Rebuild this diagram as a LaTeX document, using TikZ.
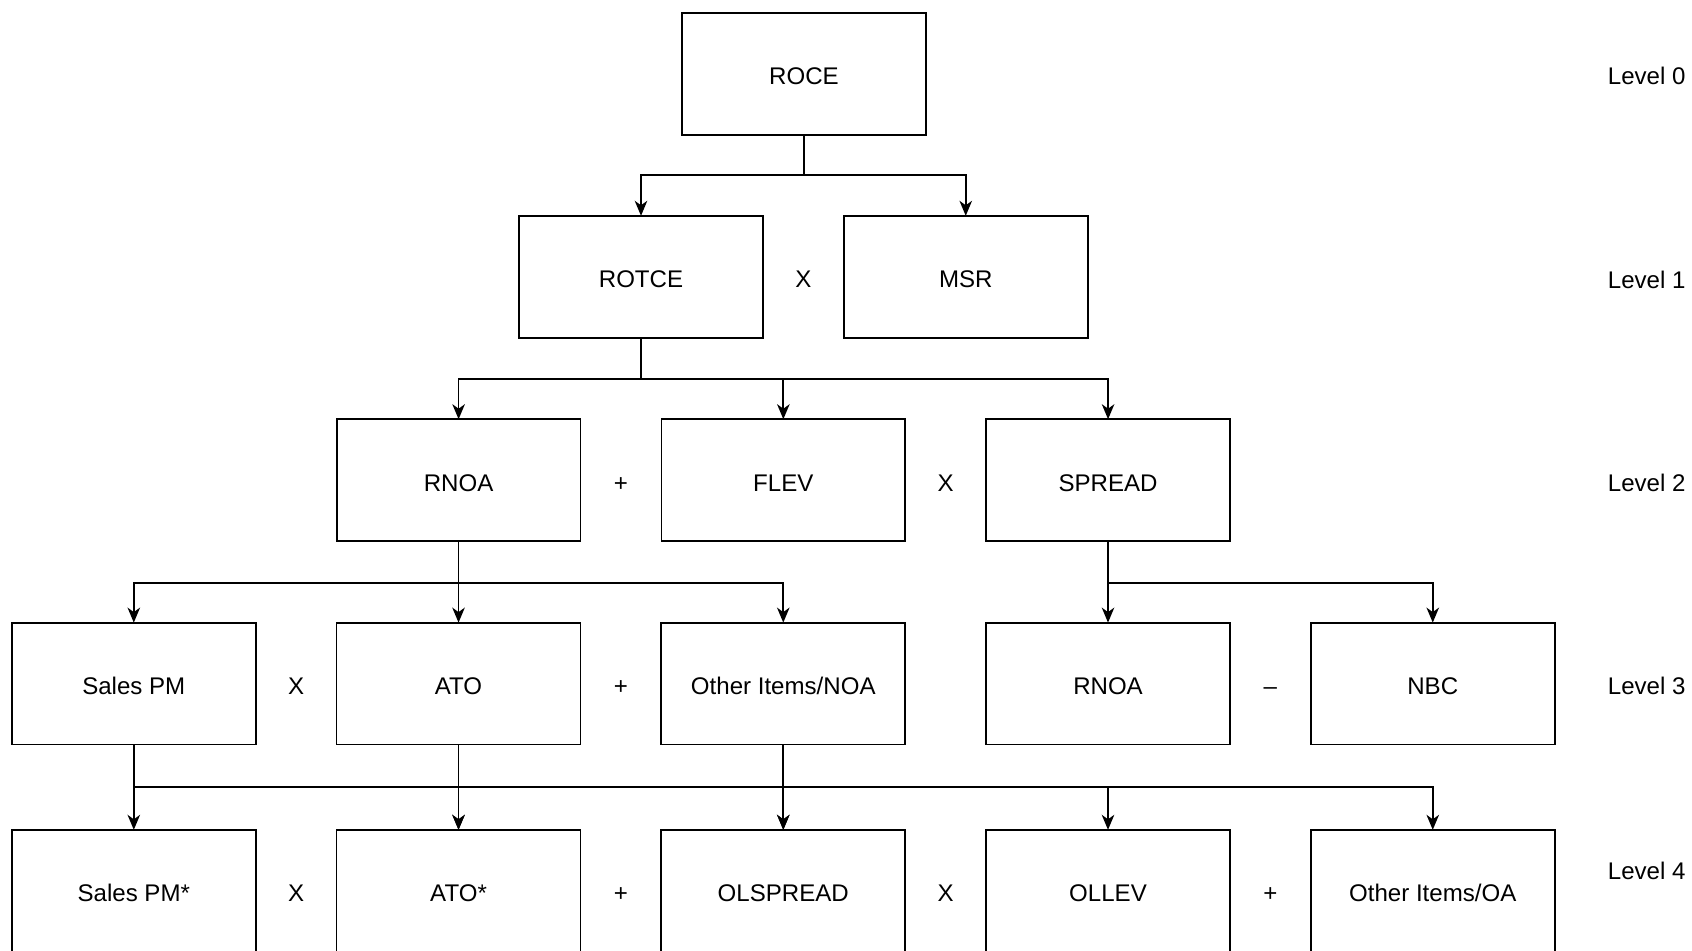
\documentclass[tikz,border=0pt]{standalone}
\usepackage{fontspec}
\setmainfont{Liberation Sans}
\usetikzlibrary{arrows.meta, positioning}
\tikzset{
  arrowK/.style={-{Stealth[length=3mm, width=2.5mm, inset=0.9mm]}, line width=1pt},
  boxK/.style={rectangle, draw, line width=1pt, minimum width=4.878cm,
               minimum height=2.44cm, inner sep=0pt, outer sep=0pt,
               text height=12.5pt, text depth=0pt},
  opK/.style={inner sep=0pt, text height=12.5pt, text depth=0pt},
  levelK/.style={inner sep=0pt, text height=9.8pt, text depth=0pt},
}

\begin{document}
\begin{tikzpicture}[x=0.02cm, y=-0.02cm, node distance=1.618cm,
                    font=\fontsize{13.7}{16}\selectfont]
  \useasboundingbox (0,0) rectangle (1692,950);
  % bus lines between the levels
  \coordinate (bus0) at (0,174.8);
  \coordinate (bus1) at (0,378.8);
  \coordinate (bus2) at (0,582.7);
  \coordinate (bus3) at (0,786.7);

  % level 0
  \node[boxK] (roce) at (804,73.9) {ROCE};
  % level 1
  \node[boxK] (rotce) at (641,276.8) {ROTCE};
  \node[boxK, right=of rotce] (msr) {MSR};
  % level 2
  \node[boxK] (rnoa) at (458.6,480.2) {RNOA};
  \node[boxK, right=of rnoa] (flev) {FLEV};
  \node[boxK, right=of flev] (spread) {SPREAD};
  % level 3
  \node[boxK] (spm) at (133.8,683.6) {Sales PM};
  \node[boxK, right=of spm] (ato) {ATO};
  \node[boxK, right=of ato] (oinoa) {Other Items/NOA};
  \node[boxK, right=of oinoa] (rnoaB) {RNOA};
  \node[boxK, right=of rnoaB] (nbc) {NBC};
  % level 4
  \node[boxK] (spmS) at (133.8,890.8) {Sales PM*};
  \node[boxK, right=of spmS] (atoS) {ATO*};
  \node[boxK, right=of atoS] (olspread) {OLSPREAD};
  \node[boxK, right=of olspread] (ollev) {OLLEV};
  \node[boxK, right=of ollev] (oioa) {Other Items/OA};

  % operators
  \path (rotce) -- node[opK] {X} (msr);
  \path (rnoa) -- node[opK] {+} (flev);
  \path (flev) -- node[opK] {X} (spread);
  \path (spm) -- node[opK] {X} (ato);
  \path (ato) -- node[opK] {+} (oinoa);
  \path (rnoaB) -- node[opK] {\textendash} (nbc);
  \path (spmS) -- node[opK] {X} (atoS);
  \path (atoS) -- node[opK] {+} (olspread);
  \path (olspread) -- node[opK] {X} (ollev);
  \path (ollev) -- node[opK] {+} (oioa);

  % level labels
  \node[levelK] (lv0) at (1646.7,75.5) {Level 0};
  \node[levelK] (lv1) at (1646.7,279.5) {Level 1};
  \node[levelK] (lv2) at (1646.7,482.4) {Level 2};
  \node[levelK] (lv3) at (1646.7,686.3) {Level 3};
  \node[levelK] (lv4) at (1646.7,870.8) {Level 4};

  % connectors
  \foreach \t in {rotce, msr}
    \draw[arrowK] (roce.south) -- (roce.south |- bus0) -| (\t.north);
  \foreach \t in {rnoa, flev, spread}
    \draw[arrowK] (rotce.south) -- (rotce.south |- bus1) -| (\t.north);
  \foreach \t in {spm, ato, oinoa}
    \draw[arrowK] (rnoa.south) -- (rnoa.south |- bus2) -| (\t.north);
  \foreach \t in {rnoaB, nbc}
    \draw[arrowK] (spread.south) -- (spread.south |- bus2) -| (\t.north);
  \foreach \t in {spmS, atoS, olspread, ollev, oioa}
    \draw[arrowK] (spm.south) -- (spm.south |- bus3) -| (\t.north);
  \draw[arrowK] (ato.south) -- (atoS.north);
  \draw[arrowK] (oinoa.south) -- (olspread.north);
\end{tikzpicture}
\end{document}
